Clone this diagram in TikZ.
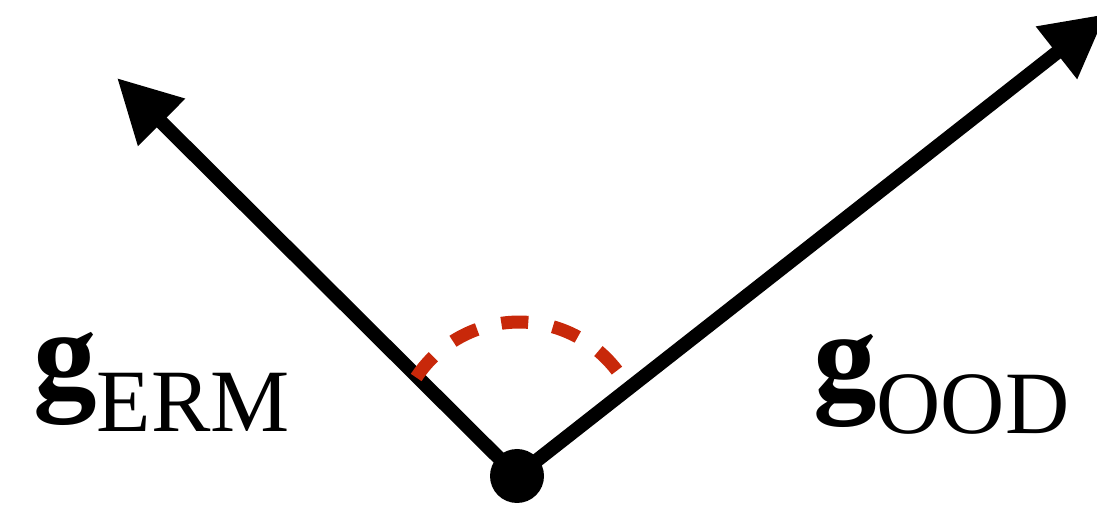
\documentclass[tikz,border=0pt]{standalone}
\usepackage{fontspec}
\setmainfont{Liberation Serif}
\usetikzlibrary{arrows.meta}
\definecolor{arcred}{HTML}{C8280A}
\tikzset{
  vec/.style={line width=14pt, -{Triangle[length=63pt,width=63pt]}},
  anglearc/.style={arcred, line width=13pt, dash pattern=on 27pt off 25pt},
  dot/.style={circle, fill=black, inner sep=0pt, minimum size=54pt},
  lab/.style={anchor=base west, inner sep=0pt}
}
\newcommand{\gsub}[1]{{\fontsize{127}{127}\selectfont\textbf{g}}\raisebox{-34pt}{\fontsize{89}{89}\selectfont #1}}
\begin{document}
\begin{tikzpicture}[x=1pt,y=1pt]
\useasboundingbox (0,0) rectangle (1097,508);
\clip (0,0) rectangle (1097,508);
\node[dot] (O) at (517,32) {};
\coordinate (tipL) at (117,430);
\coordinate (tipR) at (1106,494);
\draw[vec] (O.center) -- (tipL);
\draw[vec] (O.center) -- (tipR);
\coordinate (arcS) at (416.2,130.5);
\draw[anglearc] (arcS) arc[start angle=146.7, end angle=36.5, radius=123];
\node[lab] (gERM) at (33,110) {\gsub{ERM}};
\node[lab] (gOOD) at (813,108) {\gsub{OOD}};
\end{tikzpicture}
\end{document}
